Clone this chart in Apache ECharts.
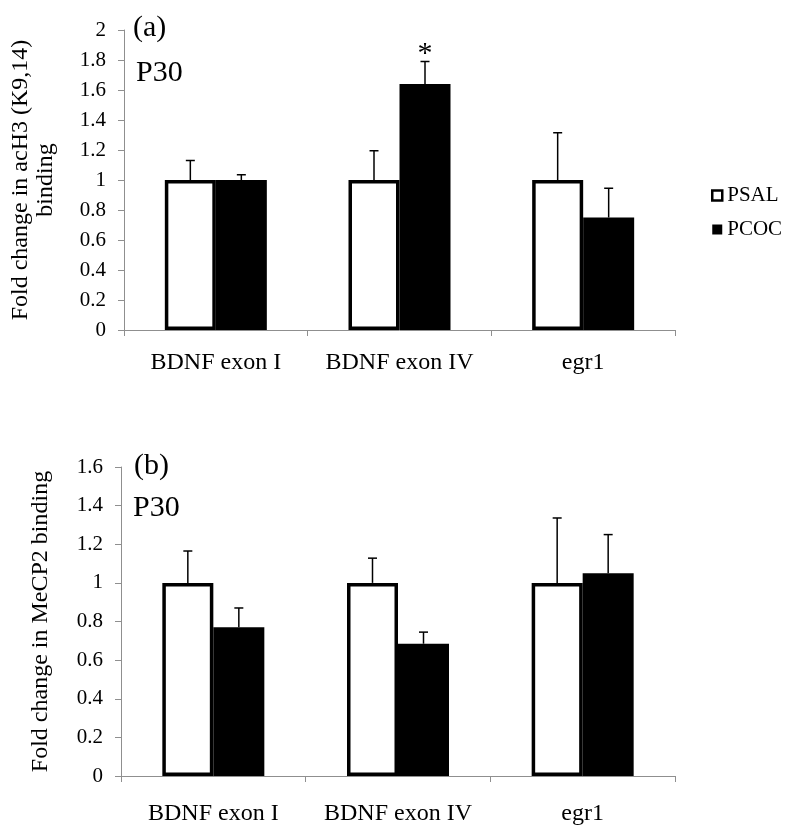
<!DOCTYPE html>
<html>
<head>
<meta charset="utf-8">
<script src="https://cdn.jsdelivr.net/npm/echarts@6/dist/echarts.min.js"></script>
<style>
html,body{margin:0;padding:0;background:#fff;}
#chart{width:791px;height:837px;}
</style>
</head>
<body>
<div id="chart"></div>
<script>
// ---- data ----
const categories = ['BDNF exon I', 'BDNF exon IV', 'egr1'];
const seriesNames = ['PSAL', 'PCOC'];

// (a) acH3 (K9,14) binding
const acH3_PSAL = [1.0, 1.0, 1.0];
const acH3_PSAL_err = [0.13, 0.195, 0.315];
const acH3_PCOC = [1.0, 1.64, 0.75];
const acH3_PCOC_err = [0.035, 0.15, 0.195];
const acH3_sig = ['', '*', ''];

// (b) MeCP2 binding
const mecp2_PSAL = [1.0, 1.0, 1.0];
const mecp2_PSAL_err = [0.165, 0.128, 0.336];
const mecp2_PCOC = [0.77, 0.685, 1.05];
const mecp2_PCOC_err = [0.10, 0.06, 0.20];
const mecp2_sig = ['', '', ''];

// axis ranges / tick labels
const acH3_axis = { min: 0, max: 2, interval: 0.2 };
const mecp2_axis = { min: 0, max: 1.6, interval: 0.2 };

// ---- styling constants ----
const FONT = '"Liberation Serif", "Times New Roman", serif';
const AXIS_GRAY = '#8f8f8f';
const BAR_W = 51;

const chart = echarts.init(document.getElementById('chart'), null, { renderer: 'canvas' });

function xAxisCfg(gridIndex, margin) {
  return {
    type: 'category', gridIndex, data: categories,
    axisLine: { show: true, lineStyle: { color: AXIS_GRAY, width: 1 } },
    axisTick: { show: true, length: 6, lineStyle: { color: AXIS_GRAY } },
    axisLabel: { fontFamily: FONT, fontSize: 24, color: '#000', margin, interval: 0, hideOverlap: false }
  };
}
function yAxisCfg(gridIndex, rng, name, gap) {
  return {
    type: 'value', gridIndex, min: rng.min, max: rng.max, interval: rng.interval,
    name, nameLocation: 'middle', nameRotate: 90, nameGap: gap,
    nameTextStyle: { fontFamily: FONT, fontSize: 24, color: '#000', lineHeight: 25, align: 'center' },
    splitLine: { show: false },
    axisLine: { show: true, lineStyle: { color: AXIS_GRAY, width: 1 } },
    axisTick: { show: true, length: 6, lineStyle: { color: AXIS_GRAY } },
    axisLabel: { fontFamily: FONT, fontSize: 21, color: '#000', margin: 18 }
  };
}

function barSeries(name, idx, values) {
  const isSal = name === 'PSAL';
  return {
    type: 'bar', name, xAxisIndex: idx, yAxisIndex: idx,
    data: values, barWidth: BAR_W, barGap: '0%',
    itemStyle: isSal
      ? { color: '#ffffff', borderColor: '#000', borderWidth: 3.5 }
      : { color: '#000000', borderColor: '#000', borderWidth: 0 },
    z: isSal ? 3 : 2,
    silent: true
  };
}

function errSeries(idx, values, errs, side, sig) {
  return {
    type: 'custom', xAxisIndex: idx, yAxisIndex: idx, z: 5, silent: true,
    data: values.map((v, i) => [i, v, errs[i]]),
    encode: { x: 0, y: 1 },
    renderItem: function (params, api) {
      const ci = api.value(0), v = api.value(1), e = api.value(2);
      const base = api.coord([ci, v]);
      const top = api.coord([ci, v + e]);
      const x = base[0] + side * BAR_W / 2;
      const cap = 4.5;
      const children = [
        { type: 'line', shape: { x1: x, y1: base[1], x2: x, y2: top[1] }, style: { stroke: '#000', lineWidth: 1.5 } },
        { type: 'line', shape: { x1: x - cap, y1: top[1], x2: x + cap, y2: top[1] }, style: { stroke: '#000', lineWidth: 1.5 } }
      ];
      const s = sig ? sig[params.dataIndex] : '';
      if (s) {
        children.push({ type: 'text', style: { text: s, x: x, y: top[1] - 7, align: 'center', verticalAlign: 'middle', font: '30px ' + FONT, fill: '#000' } });
      }
      return { type: 'group', children };
    }
  };
}

const option = {
  backgroundColor: '#ffffff',
  animation: false,
  legend: {
    orient: 'vertical', left: 706, top: 180, itemWidth: 10, itemHeight: 10, itemGap: 13,
    selectedMode: false,
    textStyle: { fontFamily: FONT, fontSize: 21, color: '#000' },
    data: [
      { name: 'PSAL', icon: 'rect', itemStyle: { color: '#fff', borderColor: '#000', borderWidth: 2.5 } },
      { name: 'PCOC', icon: 'rect', itemStyle: { color: '#000', borderWidth: 0 } }
    ]
  },
  grid: [
    { left: 124, top: 30, width: 551, height: 300 },
    { left: 121, top: 467, width: 554, height: 309 }
  ],
  xAxis: [xAxisCfg(0, 21), xAxisCfg(1, 26)],
  yAxis: [
    yAxisCfg(0, acH3_axis, 'Fold change in acH3 (K9,14)\nbinding', 66),
    yAxisCfg(1, mecp2_axis, 'Fold change in MeCP2 binding', 68)
  ],
  graphic: [
    { type: 'text', left: 133, top: 13, style: { text: '(a)', font: '30px ' + FONT, fill: '#000' } },
    { type: 'text', left: 136, top: 58, style: { text: 'P30', font: '30px ' + FONT, fill: '#000' } },
    { type: 'text', left: 134, top: 451, style: { text: '(b)', font: '30px ' + FONT, fill: '#000' } },
    { type: 'text', left: 133, top: 493, style: { text: 'P30', font: '30px ' + FONT, fill: '#000' } }
  ],
  series: [
    barSeries('PSAL', 0, acH3_PSAL),
    barSeries('PCOC', 0, acH3_PCOC),
    errSeries(0, acH3_PSAL, acH3_PSAL_err, -1, null),
    errSeries(0, acH3_PCOC, acH3_PCOC_err, 1, acH3_sig),
    barSeries('PSAL', 1, mecp2_PSAL),
    barSeries('PCOC', 1, mecp2_PCOC),
    errSeries(1, mecp2_PSAL, mecp2_PSAL_err, -1, null),
    errSeries(1, mecp2_PCOC, mecp2_PCOC_err, 1, mecp2_sig)
  ]
};
chart.setOption(option);
</script>
</body>
</html>
